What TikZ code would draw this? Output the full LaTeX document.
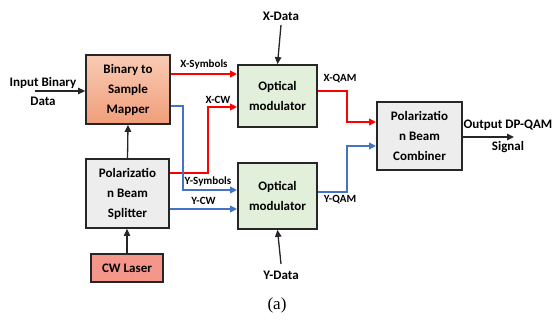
\documentclass[tikz,border=0pt]{standalone}
\usepackage{fontspec}
\setmainfont{Carlito}
\newfontfamily\capfont{Liberation Serif}
\usetikzlibrary{arrows.meta}
\definecolor{myred}{HTML}{FF0000}
\definecolor{myblue}{HTML}{4472C4}
\definecolor{mygreen}{HTML}{E2EFDA}
\definecolor{mygrey}{HTML}{EDEDED}
\definecolor{lasercol}{HTML}{F4978A}
\begin{document}
\begin{tikzpicture}[x=1pt,y=-1pt,
  blk/.style={draw=black!85,line width=1.8pt,align=center,inner sep=0pt,
    font=\fontsize{13}{20}\selectfont\bfseries},
  lbl/.style={font=\fontsize{11}{13}\selectfont\bfseries,inner sep=0pt},
  txt/.style={font=\fontsize{13}{18}\selectfont\bfseries,align=center,inner sep=0pt},
  tip/.style={-{Triangle[length=7pt,width=6.5pt]}},
  redl/.style={tip,draw=myred,line width=2.2pt},
  bluel/.style={tip,draw=myblue,line width=2.2pt},
  blkl/.style={tip,draw=black!85,line width=1.3pt}]
\useasboundingbox (0,0) rectangle (553,320);
\node[blk,minimum width=84pt,minimum height=69pt,top color=orange!25!red!15!white,bottom color=orange!60!red!45!white,
  top color={rgb,255:red,249;green,203;blue,180},bottom color={rgb,255:red,240;green,158;blue,122}]
  (map) at (128,89.5) {Binary to\\Sample\\Mapper};
\node[blk,fill=mygrey,minimum width=83pt,minimum height=69pt] (pbs) at (127.5,193.5) {Polarizatio\\n Beam\\Splitter};
\node[blk,fill=lasercol,minimum width=72pt,minimum height=28pt] (laser) at (127,268) {CW Laser};
\node[blk,fill=mygreen,minimum width=79pt,minimum height=62pt] (modx) at (277.5,96) {Optical\\modulator};
\node[blk,fill=mygreen,minimum width=79pt,minimum height=66pt] (mody) at (277.5,196) {Optical\\modulator};
\node[blk,fill=mygrey,minimum width=85pt,minimum height=68pt] (pbc) at (419.5,136) {Polarizatio\\n Beam\\Combiner};

\node[txt] (xdata) at (281,16) {X-Data};
\node[txt] (ydata) at (281,275) {Y-Data};
\node[txt] (in1) at (43,83) {Input Binary};
\node[txt] (in2) at (43,101) {Data};
\node[txt] (out1) at (508,125) {Output DP-QAM};
\node[txt] (out2) at (508,147) {Signal};
\node[font=\capfont\fontsize{17}{20}\selectfont,inner sep=0pt] (cap) at (277,305) {(a)};

\coordinate (inS) at (35,91);
\coordinate (outE) at (514,137);
\draw[blkl] (inS) -- (map.west |- inS);
\draw[blkl] (pbc.east |- outE) -- (outE);
\draw[blkl] (xdata.south |- 0,25) -- (modx.north);
\draw[blkl] (ydata.north |- 0,264) -- (mody.south);
\draw[blkl] (pbs.north) -- (map.south);
\draw[blkl] (laser.north) -- (laser.north |- pbs.south);

\draw[redl] (map.east |- 0,74) -- node[lbl,above=4pt] {X-Symbols} (modx.west |- 0,74);
\draw[redl] (pbs.east |- 0,173) -| (208,107) -- (modx.west |- 0,107);
\node[lbl] (xcw) at (218,100) {X-CW};
\draw[bluel] (map.east |- 0,106) -| (183,190) -- (mody.west |- 0,190);
\node[lbl] (ysym) at (208,182) {Y-Symbols};
\draw[bluel] (pbs.east |- 0,209) -- node[lbl,above=3.5pt] {Y-CW} (mody.west |- 0,209);

\draw[redl] (modx.east |- 0,91) -| (347,122) -- (pbc.west |- 0,122);
\node[lbl] (xqam) at (340,79) {X-QAM};
\draw[bluel] (mody.east |- 0,192) -| (347,146) -- (pbc.west |- 0,146);
\node[lbl] (yqam) at (340,200) {Y-QAM};
\end{tikzpicture}
\end{document}
